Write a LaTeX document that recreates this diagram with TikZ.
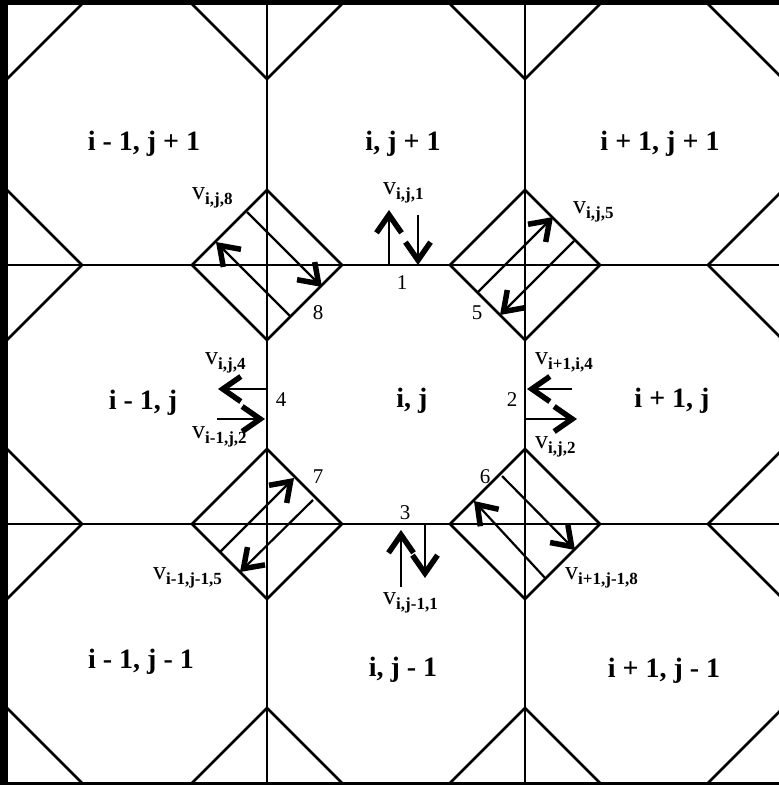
\documentclass[tikz,border=0pt]{standalone}
\usepackage{fontspec}
\setmainfont{Liberation Serif}
\usetikzlibrary{arrows.meta}
\tikzset{
  gridline/.style={line width=2.5pt, black},
  flow/.style={line width=2.2pt, -{Straight Barb[length=18pt,width=25pt,line width=5.5pt]}},
  cell/.style={font=\fontsize{28}{28}\selectfont\bfseries, anchor=base, inner sep=0pt},
  num/.style={font=\fontsize{21}{21}\selectfont, inner sep=0pt},
  vlab/.style={anchor=west, inner sep=0pt},
}
\newcommand{\vsub}[1]{{\fontsize{26}{26}\selectfont v}\raisebox{-5pt}{\fontsize{17}{17}\selectfont\bfseries #1}}
\begin{document}
\begin{tikzpicture}[x=1pt,y=-1pt]
\useasboundingbox (0,0) rectangle (779,785);
\fill[black] (0,0) rectangle (779,785);
\fill[white] (8,5) rectangle (779,782);
\begin{scope}
  \clip (8,5) rectangle (779,782);
  \foreach \x in {267,525} \draw[gridline] (\x,0) -- (\x,785);
  \foreach \y in {265,524} \draw[gridline] (0,\y) -- (779,\y);
  \foreach \x in {7,267,525,783} {
    \foreach \y in {4,265,524,783} {
      \draw[gridline] (\x-75,\y) -- (\x,\y-75) -- (\x+75,\y) -- (\x,\y+75) -- cycle;
    }
  }
\end{scope}
% cell labels
\node[cell] (c1) at (144,150) {i - 1, j + 1};
\node[cell] (c2) at (403,150) {i, j + 1};
\node[cell] (c3) at (660,150) {i + 1, j + 1};
\node[cell] (c4) at (143,409) {i - 1, j};
\node[cell] (c5) at (412,407) {i, j};
\node[cell] (c6) at (672,407) {i + 1, j};
\node[cell] (c7) at (141,668) {i - 1, j - 1};
\node[cell] (c8) at (403,676) {i, j - 1};
\node[cell] (c9) at (664,677) {i + 1, j - 1};
% face numbers
\node[num] (n1) at (402,283) {1};
\node[num] (n2) at (512,400) {2};
\node[num] (n3) at (405,513) {3};
\node[num] (n4) at (281,400) {4};
\node[num] (n5) at (477,313) {5};
\node[num] (n6) at (485,477) {6};
\node[num] (n7) at (318,477) {7};
\node[num] (n8) at (318,313) {8};
% v labels
\node[vlab] (v8) at (192,198) {\vsub{i,j,8}};
\node[vlab] (v1) at (383,193) {\vsub{i,j,1}};
\node[vlab] (v5) at (573,212) {\vsub{i,j,5}};
\node[vlab] (v4) at (205,363) {\vsub{i,j,4}};
\node[vlab] (vm2) at (192,437) {\vsub{i-1,j,2}};
\node[vlab] (vp4) at (535,362) {\vsub{i+1,i,4}};
\node[vlab] (v2) at (535,447) {\vsub{i,j,2}};
\node[vlab] (vmm5) at (153,578) {\vsub{i-1,j-1,5}};
\node[vlab] (vpm8) at (565,578) {\vsub{i+1,j-1,8}};
\node[vlab] (vm1) at (383,603) {\vsub{i,j-1,1}};
% arrows: face 8
\draw[flow] (247,212) -- (322,287);
\draw[flow] (291,317) -- (216,242);
% face 5
\draw[flow] (477,293) -- (553,217);
\draw[flow] (574,241) -- (500,315);
% face 7
\draw[flow] (220,552) -- (294,478);
\draw[flow] (313,500) -- (240,572);
% face 6
\draw[flow] (502,476) -- (575,550);
\draw[flow] (546,579) -- (474,501);
% face 1
\draw[flow] (389,265) -- (389,210);
\draw[flow] (418,215) -- (418,265);
% face 3
\draw[flow] (401,587) -- (401,530);
\draw[flow] (425,524) -- (425,578);
% face 4
\draw[flow] (267,389) -- (218,389);
\draw[flow] (217,419) -- (265,419);
% face 2
\draw[flow] (572,389) -- (527,389);
\draw[flow] (525,419) -- (577,419);
\end{tikzpicture}
\end{document}
